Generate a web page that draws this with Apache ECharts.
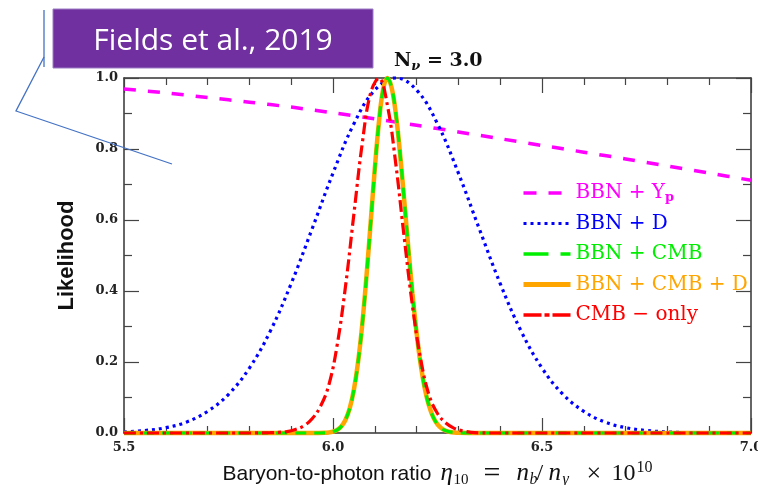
<!DOCTYPE html>
<html><head><meta charset="utf-8">
<script src="https://cdn.jsdelivr.net/npm/echarts@6/dist/echarts.min.js"></script>
<style>html,body{margin:0;padding:0;background:#fff}#c{width:758px;height:485px}</style>
</head><body><div id="c"></div>
<script>
// ---- data ----
const xTickLabels = ['5.5', '6.0', '6.5', '7.0'];
const yTickLabels = ['0.0', '0.2', '0.4', '0.6', '0.8', '1.0'];

// BBN + Yp (magenta dashed)
const ypX = [5.5, 5.6, 5.7, 5.8, 5.9, 6.0, 6.1, 6.2, 6.3, 6.4, 6.5, 6.6, 6.7, 6.8, 6.9, 7.0];
const ypY = [0.969, 0.958, 0.945, 0.932, 0.918, 0.902, 0.885, 0.867, 0.848, 0.829, 0.810, 0.791, 0.772, 0.752, 0.732, 0.712];

// BBN + D (blue dotted)
const dX = [5.50, 5.55, 5.60, 5.65, 5.70, 5.75, 5.80, 5.85, 5.90, 5.95, 6.00, 6.05, 6.10, 6.15, 6.20, 6.25, 6.30, 6.35, 6.40, 6.45, 6.50, 6.55, 6.60, 6.65, 6.70, 6.75, 6.80, 6.85, 6.90, 6.95, 7.00];
const dY = [0.003, 0.007, 0.015, 0.031, 0.061, 0.109, 0.183, 0.287, 0.421, 0.575, 0.732, 0.871, 0.966, 1.0, 0.966, 0.871, 0.732, 0.575, 0.421, 0.287, 0.183, 0.109, 0.061, 0.031, 0.015, 0.007, 0.003, 0.001, 0, 0, 0];

// BBN + CMB (green dashed)
const cmbX = [5.5, 5.95, 5.98, 5.99, 6.00, 6.01, 6.02, 6.03, 6.04, 6.05, 6.06, 6.07, 6.08, 6.09, 6.10, 6.11, 6.12, 6.13, 6.14, 6.15, 6.16, 6.17, 6.18, 6.19, 6.20, 6.21, 6.22, 6.23, 6.24, 6.25, 6.26, 6.27, 6.28, 6.29, 6.30, 6.35, 7.0];
const cmbY = [0, 0, 0.0006, 0.0016, 0.0039, 0.0087, 0.0187, 0.0374, 0.0697, 0.122, 0.200, 0.306, 0.440, 0.591, 0.744, 0.877, 0.968, 1.0, 0.974, 0.902, 0.792, 0.661, 0.524, 0.394, 0.282, 0.191, 0.123, 0.0755, 0.0439, 0.0242, 0.0127, 0.0063, 0.003, 0.0013, 0.0005, 0, 0];

// BBN + CMB + D (orange solid)
const cmbdX = [5.5, 5.95, 5.98, 5.99, 6.00, 6.01, 6.02, 6.03, 6.04, 6.05, 6.06, 6.07, 6.08, 6.09, 6.10, 6.11, 6.12, 6.13, 6.14, 6.15, 6.16, 6.17, 6.18, 6.19, 6.20, 6.21, 6.22, 6.23, 6.24, 6.25, 6.26, 6.27, 6.28, 6.29, 6.30, 6.35, 7.0];
const cmbdY = [0, 0, 0.0006, 0.0016, 0.0039, 0.0087, 0.0187, 0.0374, 0.0697, 0.122, 0.200, 0.306, 0.440, 0.591, 0.744, 0.877, 0.968, 1.0, 0.974, 0.902, 0.792, 0.661, 0.524, 0.394, 0.282, 0.191, 0.123, 0.0755, 0.0439, 0.0242, 0.0127, 0.0063, 0.003, 0.0013, 0.0005, 0, 0];

// CMB - only (red dash-dot)
const cmbOnlyX = [5.5, 5.8, 5.85, 5.87, 5.89, 5.91, 5.93, 5.95, 5.97, 5.99, 6.01, 6.03, 6.05, 6.07, 6.09, 6.11, 6.13, 6.15, 6.17, 6.19, 6.21, 6.23, 6.25, 6.27, 6.29, 6.31, 6.33, 6.35, 6.40, 7.0];
const cmbOnlyY = [0, 0, 0.001, 0.002, 0.004, 0.010, 0.020, 0.040, 0.075, 0.135, 0.248, 0.414, 0.617, 0.816, 0.958, 0.999, 0.924, 0.760, 0.554, 0.359, 0.206, 0.106, 0.055, 0.028, 0.013, 0.006, 0.002, 0.0005, 0, 0];

const names = ['BBN + Yp', 'BBN + D', 'BBN + CMB', 'BBN + CMB + D', 'CMB \u2212 only'];
const colors = ['#ff00ff', '#0000ff', '#00ee00', '#ffa500', '#ff0000'];

const zip = (xs, ys) => xs.map((x, i) => [x, ys[i]]);

const chart = echarts.init(document.getElementById('c'), null, {renderer: 'canvas'});

const axisColor = '#333';
const tickStyle = {color: '#444', width: 1.2};
const lblFont = {fontFamily: 'DejaVu Serif', fontWeight: 'bold', fontSize: 13, color: '#222'};

function xAxisBase(pos, showLabel) {
  return {
    type: 'value', position: pos, min: 5.5, max: 7.0, interval: 0.5,
    axisLine: {show: true, onZero: false, lineStyle: {color: axisColor, width: 1.5}},
    axisTick: {show: true, inside: true, length: 15, lineStyle: tickStyle},
    minorTick: {show: true, splitNumber: 5, length: 7, lineStyle: tickStyle},
    splitLine: {show: false}, minorSplitLine: {show: false},
    axisLabel: Object.assign({show: showLabel, margin: 8,
      formatter: v => { const i = Math.round((v - 5.5) / 0.5); return xTickLabels[i] || ''; }}, lblFont)
  };
}
function yAxisBase(pos, showLabel) {
  return {
    type: 'value', position: pos, min: 0, max: 1, interval: 0.2,
    axisLine: {show: true, onZero: false, lineStyle: {color: axisColor, width: 1.5}},
    axisTick: {show: true, inside: true, length: 15, lineStyle: tickStyle},
    minorTick: {show: true, splitNumber: 2, length: 8, lineStyle: tickStyle},
    splitLine: {show: false}, minorSplitLine: {show: false},
    axisLabel: Object.assign({show: showLabel, margin: 6,
      formatter: v => { const i = Math.round(v / 0.2); return yTickLabels[i] || ''; }}, lblFont)
  };
}

const serif = 'Liberation Serif';
const ink = '#111';
const xb = xAxisBase('bottom', true);
xb.name = '{a|Baryon-to-photon ratio}{m|\u03b7}{sb|10}{eq|=}{n1|n}{sbi|b}{sl|/}{n2|n}{sg|\u03b3}{x|\u00d7}{ten|10}{sp|10}';
xb.nameLocation = 'middle';
xb.nameGap = 16;
xb.nameTextStyle = {
  fontFamily: 'Liberation Sans', fontSize: 21, color: ink, lineHeight: 28,
  rich: {
    a: {fontFamily: 'Liberation Sans', fontSize: 21, color: ink, lineHeight: 28, width: 218, align: 'left'},
    m: {fontFamily: serif, fontStyle: 'italic', fontSize: 25, color: ink, lineHeight: 28, width: 13, align: 'left'},
    sb: {fontFamily: serif, fontSize: 15, color: ink, lineHeight: 15, width: 30, align: 'left', verticalAlign: 'bottom'},
    eq: {fontFamily: serif, fontSize: 30, color: ink, lineHeight: 28, width: 33, align: 'left'},
    n1: {fontFamily: serif, fontStyle: 'italic', fontSize: 25, color: ink, lineHeight: 28, width: 13, align: 'left'},
    sbi: {fontFamily: serif, fontStyle: 'italic', fontSize: 16, color: ink, lineHeight: 15, width: 7, align: 'left', verticalAlign: 'bottom'},
    sl: {fontFamily: serif, fontSize: 24, color: ink, lineHeight: 28, width: 12, align: 'left'},
    n2: {fontFamily: serif, fontStyle: 'italic', fontSize: 25, color: ink, lineHeight: 28, width: 14, align: 'left'},
    sg: {fontFamily: serif, fontStyle: 'italic', fontSize: 16, color: ink, lineHeight: 15, width: 24, align: 'left', verticalAlign: 'bottom'},
    x: {fontFamily: serif, fontSize: 26, color: ink, lineHeight: 28, width: 25, align: 'left'},
    ten: {fontFamily: serif, fontSize: 24, color: ink, lineHeight: 28, width: 25, align: 'left'},
    sp: {fontFamily: serif, fontSize: 16, color: ink, lineHeight: 15, align: 'left', verticalAlign: 'top'}
  }
};
const yl = yAxisBase('left', true);
yl.name = 'Likelihood';
yl.nameLocation = 'middle';
yl.nameRotate = 90;
yl.nameGap = 46;
yl.nameTextStyle = {fontFamily: 'Liberation Sans', fontWeight: 'bold', fontSize: 22, color: ink};

const legendLine = [
  {type: [13, 12], width: 3.5},
  {type: [3, 4], width: 3.2},
  {type: [25, 12], width: 3.5},
  {type: 'solid', width: 5},
  {type: [18, 3, 5, 3], width: 3.5}
];

function legendItem(i) {
  const c = colors[i];
  return {
    name: names[i],
    lineStyle: Object.assign({color: c}, legendLine[i]),
    itemStyle: {opacity: 0},
    textStyle: {color: c, rich: {
      p: {color: c, fontFamily: 'DejaVu Serif', fontWeight: 'bold', fontSize: 13, lineHeight: 12, verticalAlign: 'bottom'}
    }}
  };
}

const option = {
  backgroundColor: '#fff',
  animation: false,
  grid: {left: 124, right: 7, top: 78, bottom: 52, containLabel: false, outerBoundsMode: 'none'},
  title: {
    text: '{n|N}{s|\u03bd}{n| = 3.0}',
    left: 389, top: 44,
    textStyle: {rich: {
      n: {fontFamily: 'DejaVu Serif', fontWeight: 'bold', fontSize: 19, color: ink, lineHeight: 24},
      s: {fontFamily: 'DejaVu Serif', fontWeight: 'bold', fontStyle: 'italic', fontSize: 13, color: ink, lineHeight: 12, verticalAlign: 'bottom'}
    }}
  },
  legend: {
    left: 521, top: 182, orient: 'vertical', padding: 0,
    itemWidth: 47, itemHeight: 14, itemGap: 8.5,
    selectedMode: false,
    textStyle: {fontFamily: 'DejaVu Serif', fontSize: 20, lineHeight: 22},
    formatter: n => n === 'BBN + Yp' ? 'BBN + Y{p|p}' : n,
    data: [0, 1, 2, 3, 4].map(legendItem)
  },
  xAxis: [xb, xAxisBase('top', false)],
  yAxis: [yl, yAxisBase('right', false)],
  series: [
    {name: names[0], type: 'line', data: zip(ypX, ypY), smooth: 0.3, symbol: 'none', clip: false,
     lineStyle: {color: colors[0], width: 3.5, type: [12, 12]}, z: 2},
    {name: names[1], type: 'line', data: zip(dX, dY), smooth: 0.4, symbol: 'none', clip: false,
     lineStyle: {color: colors[1], width: 3.2, type: [3, 4]}, z: 3},
    {name: names[3], type: 'line', data: zip(cmbdX, cmbdY), smooth: 0.4, symbol: 'none', clip: false,
     lineStyle: {color: colors[3], width: 4.5, type: 'solid'}, z: 4},
    {name: names[2], type: 'line', data: zip(cmbX, cmbY), smooth: 0.4, symbol: 'none', clip: false,
     lineStyle: {color: colors[2], width: 3.2, type: [11, 8]}, z: 5},
    {name: names[4], type: 'line', data: zip(cmbOnlyX, cmbOnlyY), smooth: 0.4, symbol: 'none', clip: false,
     lineStyle: {color: colors[4], width: 3.2, type: [12, 4, 3, 4]}, z: 6}
  ],
  graphic: [
    {type: 'rect', z: 100, shape: {x: 53, y: 9, width: 320, height: 59},
     style: {fill: '#7030A0', stroke: '#9b7cc4', lineWidth: 1}},
    {type: 'text', z: 101, x: 213, y: 41,
     style: {text: 'Fields et al., 2019', fill: '#ffffff', font: '30px "Open Sans"', align: 'center', verticalAlign: 'middle'}},
    {type: 'polyline', z: 102, shape: {points: [[44, 10], [44, 67]]},
     style: {stroke: '#4472C4', lineWidth: 1.3, fill: null}},
    {type: 'polyline', z: 102, shape: {points: [[44, 57], [16, 111], [172, 164]]},
     style: {stroke: '#4472C4', lineWidth: 1.3, fill: null}}
  ]
};
chart.setOption(option);
</script>
</body></html>
